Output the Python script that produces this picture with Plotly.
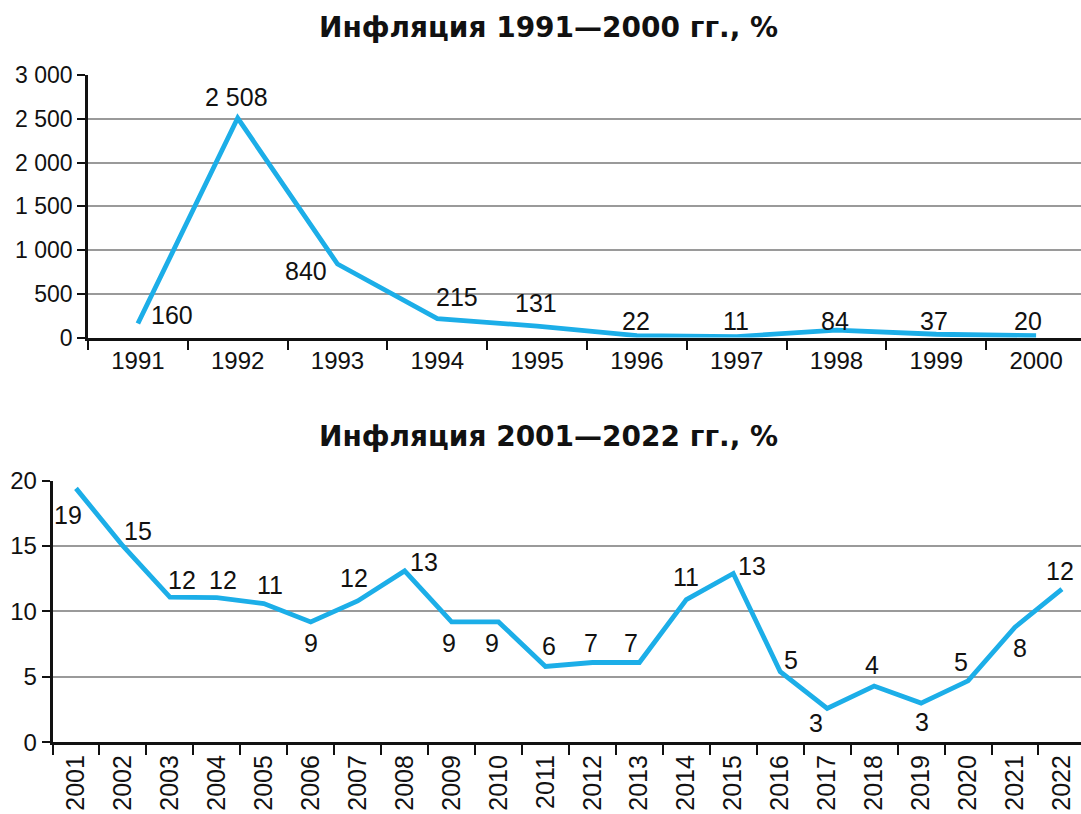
import plotly.graph_objects as go

# ---- data ----
years_1 = ["1991", "1992", "1993", "1994", "1995", "1996", "1997", "1998", "1999", "2000"]
inflation_1 = [160, 2508, 840, 215, 131, 22, 11, 84, 37, 20]
labels_1 = ["160", "2 508", "840", "215", "131", "22", "11", "84", "37", "20"]
yticks_1 = [0, 500, 1000, 1500, 2000, 2500, 3000]
yticklabels_1 = ["0", "500", "1 000", "1 500", "2 000", "2 500", "3 000"]

years_2 = [str(y) for y in range(2001, 2023)]
inflation_2 = [19.4, 15.0, 11.1, 11.05, 10.6, 9.2, 10.8, 13.1, 9.2, 9.2, 5.8,
               6.1, 6.1, 10.9, 12.9, 5.4, 2.6, 4.3, 3.0, 4.7, 8.8, 11.7]
labels_2 = ["19", "15", "12", "12", "11", "9", "12", "13", "9", "9", "6",
            "7", "7", "11", "13", "5", "3", "4", "3", "5", "8", "12"]
yticks_2 = [0, 5, 10, 15, 20]

title_1 = "Инфляция 1991—2000 гг., %"
title_2 = "Инфляция 2001—2022 гг., %"

# ---- label placement (pixel offsets from point: dx right, dy down) ----
offs_1 = [(34, -9), (-1, -21), (-32, 7), (20, -22), (-1, -23),
          (-1, -15), (-1, -16), (-2, -9), (-2, -13), (-8, -15)]
offs_2 = [(-8, 27), (15, -15), (12, -17), (6, -18), (6, -19), (0, 21), (-4, -23),
          (19, -9), (-3, 21), (-7, 21), (4, -20), (-1, -20), (-8, -20), (0, -23),
          (19, -7), (11, -12), (-11, 15), (-2, -21), (1, 19), (-7, -19), (5, 21), (-2, -18)]

W, H = 1081, 814
LINE = "#1CAEE8"
NUM_FONT = "Liberation Sans, Arial, sans-serif"
TITLE_FONT = "DejaVu Sans, Open Sans, sans-serif"

fig = go.Figure()
fig.add_trace(go.Scatter(x=years_1, y=inflation_1, mode="lines",
                         line=dict(color=LINE, width=4.8), xaxis="x", yaxis="y",
                         hoverinfo="skip"))
fig.add_trace(go.Scatter(x=years_2, y=inflation_2, mode="lines",
                         line=dict(color=LINE, width=4.8), xaxis="x2", yaxis="y2",
                         hoverinfo="skip"))

ann = []
for i, (y, t, (dx, dy)) in enumerate(zip(inflation_1, labels_1, offs_1)):
    ann.append(dict(x=i, y=y, xref="x", yref="y", text=t, showarrow=False,
                    xshift=dx, yshift=-dy, font=dict(size=25, color="#111", family=NUM_FONT)))
for i, (y, t, (dx, dy)) in enumerate(zip(inflation_2, labels_2, offs_2)):
    ann.append(dict(x=i, y=y, xref="x2", yref="y2", text=t, showarrow=False,
                    xshift=dx, yshift=-dy, font=dict(size=25, color="#111", family=NUM_FONT)))
ann.append(dict(x=548 / W, y=1 - 28 / H, xref="paper", yref="paper", text="<b>" + title_1 + "</b>",
                xanchor="center", yanchor="middle",
                showarrow=False, font=dict(size=28, color="#111", family=TITLE_FONT)))
ann.append(dict(x=548 / W, y=1 - 436 / H, xref="paper", yref="paper", text="<b>" + title_2 + "</b>",
                xanchor="center", yanchor="middle",
                showarrow=False, font=dict(size=28, color="#111", family=TITLE_FONT)))

common_x = dict(type="category", tickson="boundaries", ticks="outside", ticklen=10,
                tickwidth=2, tickcolor="#111", showline=True, linecolor="#111", linewidth=2.5,
                showgrid=False, zeroline=False, fixedrange=True, automargin=False)
common_y = dict(ticks="outside", ticklen=8, tickwidth=2, tickcolor="#111", showline=True,
                linecolor="#111", linewidth=2.5, showgrid=True, gridcolor="#9a9a9a",
                gridwidth=1.5, zeroline=False, fixedrange=True, automargin=False)

fig.update_layout(
    template="none",
    width=W, height=H, margin=dict(l=0, r=0, t=0, b=0, autoexpand=False),
    paper_bgcolor="white", plot_bgcolor="white", showlegend=False,
    xaxis=dict(**common_x, domain=[88 / W, 1], range=[-0.5, -0.5 + (W - 88) / 99.8],
               anchor="y", tickfont=dict(size=24, family=NUM_FONT, color="#111")),
    yaxis=dict(**common_y, domain=[1 - 337.5 / H, 1 - 75 / H], range=[0, 3000],
               anchor="x", tickvals=yticks_1, ticktext=yticklabels_1,
               tickfont=dict(size=23, family=NUM_FONT, color="#111")),
    xaxis2=dict(**common_x, domain=[52.5 / W, 1], range=[-0.5, -0.5 + (W - 52.5) / 46.95],
                anchor="y2", tickangle=-90, tickfont=dict(size=25, family=NUM_FONT, color="#111")),
    yaxis2=dict(**common_y, domain=[1 - 742.4 / H, 1 - 480.5 / H], range=[0, 20],
                anchor="x2", tickvals=yticks_2,
                tickfont=dict(size=24, family=NUM_FONT, color="#111")),
    annotations=ann,
)

fig.write_html("out.html", config={"displayModeBar": False},
               post_script="document.body.style.margin='0';document.body.style.overflow='hidden';")
